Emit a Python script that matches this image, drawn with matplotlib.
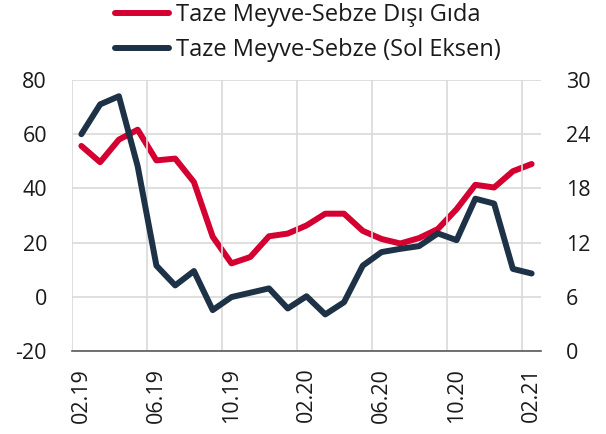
import matplotlib
matplotlib.use("Agg")
import matplotlib.pyplot as plt
import numpy as np

plt.rcParams['font.family'] = ['Open Sans', 'DejaVu Sans']
plt.rcParams['axes.unicode_minus'] = False

months = ["02.19", "03.19", "04.19", "05.19", "06.19", "07.19", "08.19", "09.19",
          "10.19", "11.19", "12.19", "01.20", "02.20", "03.20", "04.20", "05.20",
          "06.20", "07.20", "08.20", "09.20", "10.20", "11.20", "12.20", "01.21", "02.21"]

# Taze Meyve-Sebze (Sol Eksen) - left axis
fresh = [60.0, 71.0, 74.0, 48.2, 11.5, 4.2, 9.5, -4.9, -0.1, 1.5, 3.1, -4.3, 0.2,
         -6.5, -2.0, 11.5, 16.5, 17.7, 18.7, 23.4, 20.9, 36.2, 34.4, 10.3, 8.6]
# Taze Meyve-Sebze Dışı Gıda - right axis
nonfresh = [22.7, 20.9, 23.4, 24.5, 21.1, 21.3, 18.7, 12.65, 9.7, 10.4, 12.7, 13.0, 13.9,
            15.2, 15.2, 13.3, 12.4, 11.9, 12.5, 13.5, 15.7, 18.4, 18.1, 19.9, 20.7]

left_ticks = [-20, 0, 20, 40, 60, 80]
right_ticks = [0, 6, 12, 18, 24, 30]
tick_labels = ["02.19", "06.19", "10.19", "02.20", "06.20", "10.20", "02.21"]

RED = "#D50032"
NAVY = "#1D3246"
GRID = "#D9D9D9"

fig = plt.figure(figsize=(6.06, 4.34), dpi=100)
ax = fig.add_axes([72/606, 1-351/434, (541-72)/606, (351-80)/434])
ax2 = ax.twinx()

x = np.arange(len(months))
l1, = ax2.plot(x, nonfresh, color=RED, lw=4.3, solid_capstyle='round', solid_joinstyle='round', zorder=3)
l2, = ax.plot(x, fresh, color=NAVY, lw=4.3, solid_capstyle='round', solid_joinstyle='round', zorder=3)

ax.set_zorder(ax2.get_zorder() + 1)
ax.patch.set_visible(False)

ax.set_xlim(-0.5, len(months) - 0.5)
ax.set_ylim(-20, 80)
ax2.set_ylim(0, 30)
ax.set_yticks(left_ticks)
ax2.set_yticks(right_ticks)

tick_pos = [months.index(t) for t in tick_labels]
ax.set_xticks(tick_pos)
ax.set_xticklabels(tick_labels, rotation=90)
ax.set_xticks(np.arange(-0.5, len(months) - 0.5, 4), minor=True)

ax.grid(False)
ax2.grid(axis='y', color=GRID, lw=1.2, zorder=0)
ax2.set_axisbelow(True)
ax.grid(axis='x', which='minor', color=GRID, lw=1.2, zorder=0)

for a in (ax, ax2):
    for s in a.spines.values():
        s.set_visible(False)
ax.spines['bottom'].set_visible(True)
ax.spines['bottom'].set_color("#595959")
ax.spines['bottom'].set_linewidth(1.2)

ax.tick_params(axis='both', which='both', length=0, labelsize=15.5, colors="#1a1a1a")
ax.tick_params(axis='y', pad=18)
ax.tick_params(axis='x', pad=12)
ax2.tick_params(axis='y', length=0, labelsize=15.5, colors="#1a1a1a", pad=18)

leg = fig.legend([l1, l2], ["Taze Meyve-Sebze Dışı Gıda", "Taze Meyve-Sebze (Sol Eksen)"],
                 loc='upper left', bbox_to_anchor=(115/606, 1 - 3/434), frameon=False,
                 fontsize=17, handlelength=2.3, handletextpad=0.3, labelspacing=0.46,
                 borderpad=0.0, borderaxespad=0.0)
for t in leg.get_texts():
    t.set_color("#1a1a1a")

fig.savefig("out.png", dpi=100)
